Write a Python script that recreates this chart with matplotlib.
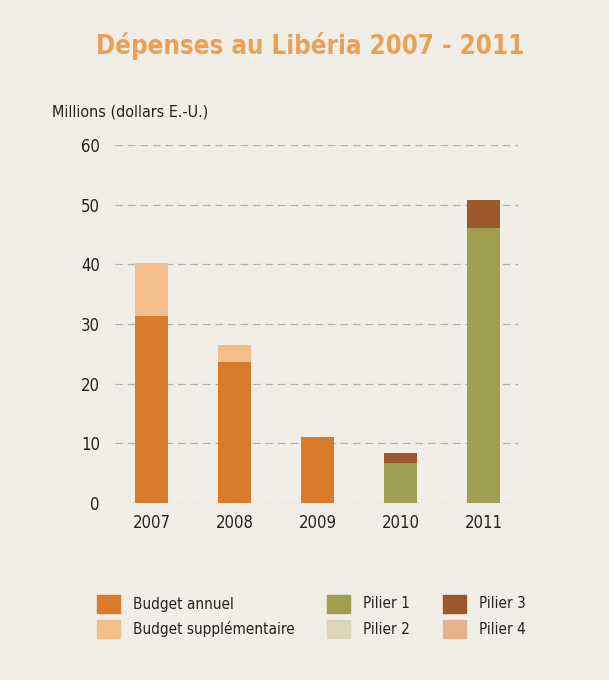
import matplotlib.pyplot as plt
from matplotlib.patches import Rectangle
import numpy as np

plt.rcParams['font.family'] = ['DejaVu Sans']
plt.rcParams['font.stretch'] = 'condensed'

years = ["2007", "2008", "2009", "2010", "2011"]
budget_annuel = [31.3, 23.6, 11.1, 0, 0]
budget_supp = [9.0, 2.9, 0, 0, 0]
pilier1 = [0, 0, 0, 6.7, 46.1]
pilier2 = [0, 0, 0, 0, 0]
pilier3 = [0, 0, 0, 1.7, 4.6]
pilier4 = [0, 0, 0, 0, 0]

series = [
    ("Budget annuel", budget_annuel, "#D97B2B"),
    ("Budget supplémentaire", budget_supp, "#F2BE8C"),
    ("Pilier 1", pilier1, "#A09E50"),
    ("Pilier 2", pilier2, "#DCD8B6"),
    ("Pilier 3", pilier3, "#9C582C"),
    ("Pilier 4", pilier4, "#E2B38C"),
]

bg = "#F1EDE7"
fig = plt.figure(figsize=(6.09, 6.8), dpi=100, facecolor=bg)
ax = fig.add_axes([0.189, 0.2603, 0.662, 0.5265])
ax.set_facecolor(bg)

x = np.arange(len(years))
bottom = np.zeros(len(years))
for label, vals, color in series:
    vals = np.array(vals, dtype=float)
    ax.bar(x, vals, bottom=bottom, width=0.4, color=color, label=label,
           linewidth=0, zorder=2)
    bottom += vals

ax.set_ylim(0, 60)
ax.set_xlim(-0.44, 4.42)
ax.set_yticks(range(0, 61, 10))
ax.set_xticks(x)
ax.set_xticklabels(years)
ax.tick_params(length=0, labelsize=12, colors="#222222")
ax.tick_params(axis="y", pad=11)
ax.tick_params(axis="x", pad=8)
for s in ax.spines.values():
    s.set_visible(False)
ax.yaxis.grid(True, linestyle=(0, (6, 4)), color="#B9AEAE", linewidth=0.9, zorder=1)
ax.set_axisbelow(True)

fig.text(0.509, 0.933, "Dépenses au Libéria 2007 - 2011", ha="center", va="center",
         fontsize=18.5, fontweight="bold", color="#E9A157")
fig.text(0.085, 0.835, "Millions (dollars E.-U.)", ha="left", va="center",
         fontsize=11.5, color="#222222")

# legend, three columns
col_x = [97, 327, 443]
row_y = [604, 629]
order = [(0, 0), (0, 1), (1, 0), (1, 1), (2, 0), (2, 1)]
W, H = 609, 680
for (label, vals, color), (c, r) in zip(series, order):
    sx, sy = col_x[c], row_y[r]
    fig.add_artist(Rectangle((sx / W, 1 - (sy + 9) / H), 23 / W, 18 / H,
                             transform=fig.transFigure, color=color))
    fig.text((sx + 36) / W, 1 - sy / H, label, ha="left", va="center",
             fontsize=11, color="#222222")

fig.savefig("out.png", dpi=100, facecolor=bg)
